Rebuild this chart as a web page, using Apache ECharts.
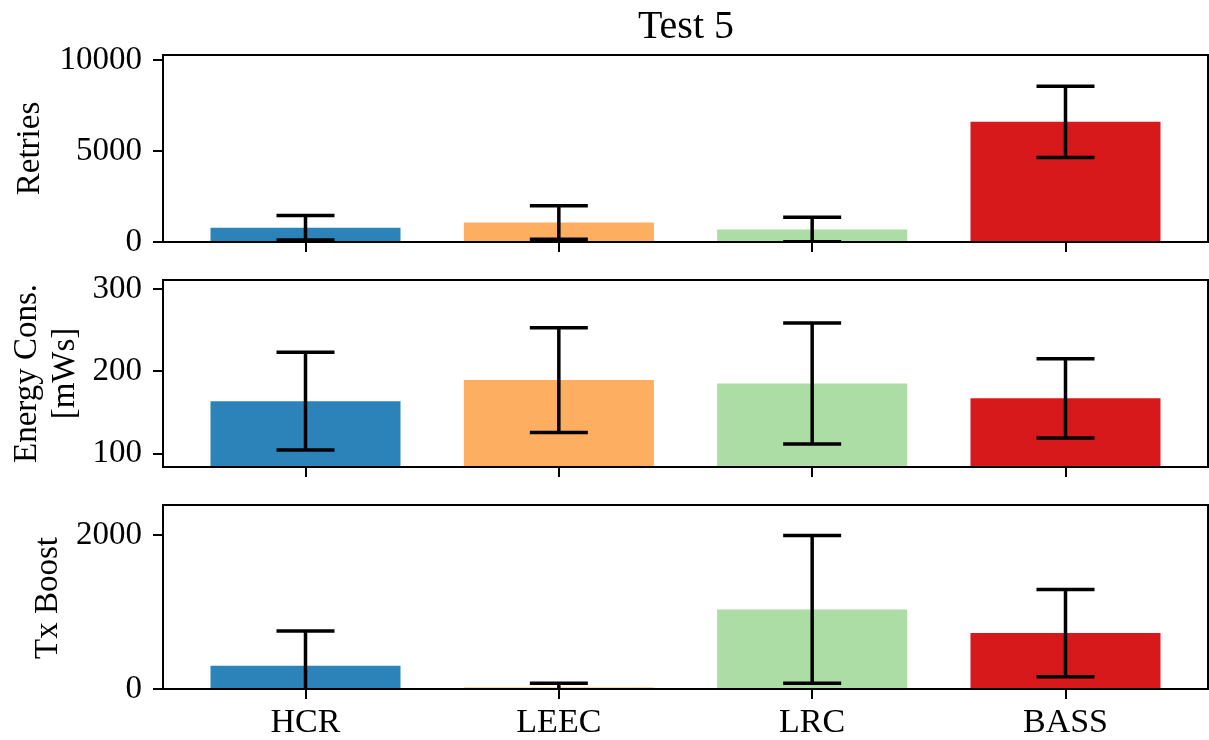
<!DOCTYPE html>
<html>
<head>
<meta charset="utf-8">
<script src="https://cdn.jsdelivr.net/npm/echarts@6/dist/echarts.min.js"></script>
<style>
  html, body { margin: 0; padding: 0; background: #fff; }
  #chart { width: 1209px; height: 740px; }
</style>
</head>
<body>
<div id="chart"></div>
<script>
// Methods compared in test 5
const methods = ['HCR', 'LEEC', 'LRC', 'BASS'];
const methodColors = ['#2b83ba', '#fdae61', '#abdda4', '#d7191c'];

// Retries: mean and standard deviation
const retriesMean = [780, 1070, 690, 6600];
const retriesErr = [670, 925, 670, 1958];
const retriesTicks = [0, 5000, 10000];

// Energy consumption [mWs]: mean and standard deviation
const energyMean = [163.6, 189.2, 185.2, 167.0];
const energyErr = [59.4, 63.6, 73.6, 48.2];
const energyTicks = [100, 200, 300];

// Tx boost: mean and standard deviation
const boostMean = [302, 18, 1032, 726];
const boostErr = [451, 55, 958, 566];
const boostTicks = [0, 2000];

const FONT = '"Liberation Serif", "DejaVu Serif", serif';
const BAR_HALF = 0.375;   // bar width 0.75 of a category slot
const X_MIN = -0.5625, X_MAX = 3.5625;

const panels = [
  { name: 'Retries', mean: retriesMean, err: retriesErr, ticks: retriesTicks, min: 0, max: 10270, top: 55 },
  { name: 'Energy Cons.\n[mWs]', mean: energyMean, err: energyErr, ticks: energyTicks, min: 83.5, max: 311, top: 280 },
  { name: 'Tx Boost', mean: boostMean, err: boostErr, ticks: boostTicks, min: 0, max: 2387, top: 505 }
];
const PANEL_H = 187;
const LEFT = 163, RIGHT = 1;

function renderBar(params, api) {
  const x = api.value(0), v = api.value(1);
  const a = api.coord([x - BAR_HALF, v]);
  const b = api.coord([x + BAR_HALF, 0]);
  return {
    type: 'rect',
    shape: { x: a[0], y: a[1], width: b[0] - a[0], height: b[1] - a[1] },
    style: { fill: methodColors[params.dataIndex] }
  };
}

function renderErr(params, api) {
  const x = api.value(0), lo = api.value(1), hi = api.value(2);
  const t = api.coord([x, hi]), b = api.coord([x, lo]);
  const cap = 29;
  const st = { stroke: '#000', lineWidth: 3.5 };
  return {
    type: 'group',
    children: [
      { type: 'line', shape: { x1: t[0], y1: t[1], x2: b[0], y2: b[1] }, style: st },
      { type: 'line', shape: { x1: t[0] - cap, y1: t[1], x2: t[0] + cap, y2: t[1] }, style: st },
      { type: 'line', shape: { x1: b[0] - cap, y1: b[1], x2: b[0] + cap, y2: b[1] }, style: st }
    ]
  };
}

const grid = [], xAxis = [], yAxis = [], series = [];
panels.forEach((p, i) => {
  grid.push({
    left: LEFT, right: RIGHT, top: p.top, height: PANEL_H,
    show: true, borderColor: '#000', borderWidth: 2, backgroundColor: 'transparent', z: 5
  });
  const isLast = i === panels.length - 1;
  xAxis.push({
    type: 'value', gridIndex: i, min: X_MIN, max: X_MAX, z: 5,
    splitLine: { show: false },
    axisLine: { show: true, onZero: false, lineStyle: { color: '#000', width: 2 } },
    axisTick: { show: true, inside: false, length: 10, customValues: [0, 1, 2, 3], lineStyle: { color: '#000', width: 2 } },
    axisLabel: {
      show: isLast, customValues: [0, 1, 2, 3], margin: 17,
      formatter: v => methods[Math.round(v)],
      color: '#000', fontFamily: FONT, fontSize: 34
    }
  });
  yAxis.push({
    type: 'value', gridIndex: i, min: p.min, max: p.max, z: 5,
    splitLine: { show: false },
    axisLine: { show: true, onZero: false, lineStyle: { color: '#000', width: 2 } },
    axisTick: { show: true, inside: false, length: 10, customValues: p.ticks, lineStyle: { color: '#000', width: 2 } },
    axisLabel: {
      customValues: p.ticks, margin: 21,
      formatter: v => String(v),
      color: '#000', fontFamily: FONT, fontSize: 33
    }
  });
  series.push({
    type: 'custom', xAxisIndex: i, yAxisIndex: i, clip: true, z: 2,
    renderItem: renderBar,
    encode: { x: 0, y: 1 },
    data: p.mean.map((m, k) => [k, m])
  });
  series.push({
    type: 'custom', xAxisIndex: i, yAxisIndex: i, clip: true, z: 6,
    renderItem: renderErr,
    encode: { x: 0, y: [1, 2] },
    data: p.mean.map((m, k) => [k, m - p.err[k], m + p.err[k]])
  });
});

const textStyle = { fill: '#000', fontFamily: FONT };
const graphic = [
  { type: 'text', x: 686, y: 27, style: Object.assign({ text: 'Test 5', fontSize: 40, align: 'center', verticalAlign: 'middle' }, textStyle) },
  { type: 'text', x: 30, y: 148.5, rotation: Math.PI / 2, style: Object.assign({ text: 'Retries', fontSize: 33, align: 'center', verticalAlign: 'middle' }, textStyle) },
  { type: 'text', x: 46, y: 373.5, rotation: Math.PI / 2, style: Object.assign({ text: 'Energy Cons.\n[mWs]', fontSize: 33, lineHeight: 38, align: 'center', verticalAlign: 'middle' }, textStyle) },
  { type: 'text', x: 48, y: 598, rotation: Math.PI / 2, style: Object.assign({ text: 'Tx Boost', fontSize: 33, align: 'center', verticalAlign: 'middle' }, textStyle) }
];

const chart = echarts.init(document.getElementById('chart'), null, { renderer: 'canvas' });
chart.setOption({
  animation: false,
  backgroundColor: '#fff',
  grid, xAxis, yAxis, series, graphic
});
</script>
</body>
</html>
